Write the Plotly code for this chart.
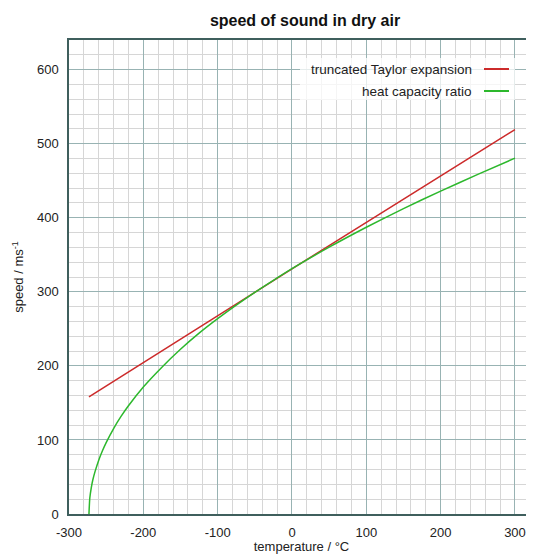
import plotly.graph_objects as go

# Data
taylor_temp = [-273.15, 0, 300]
taylor_speed = [158, 331, 519]

heat_temp = [-273.15, -272, -270, -268, -265, -260, -255, -250, -240, -230, -220, -200,
             -175, -150, -125, -100, -75, -50, -25, 0, 50, 100, 150, 200, 250, 300]
heat_speed = [0, 21.6, 35.6, 45.9, 57.2, 72.7, 85.3, 96.4, 115.4, 131.7, 146.1, 171.4,
              198.2, 222.4, 244.2, 263.8, 282.1, 299.4, 315.6, 331.3, 360.3, 387.2,
              412.4, 436.0, 458.5, 480.5]

x_ticks = [-300, -200, -100, 0, 100, 200, 300]
y_ticks = [0, 100, 200, 300, 400, 500, 600]

series_names = ["truncated Taylor expansion", "heat capacity ratio"]
red = "#cc2b2b"
green = "#2db82d"

fig = go.Figure()
fig.add_trace(go.Scatter(x=taylor_temp, y=taylor_speed, mode="lines",
                         line=dict(color=red, width=1.5), name=series_names[0],
                         showlegend=False))
fig.add_trace(go.Scatter(x=heat_temp, y=heat_speed, mode="lines",
                         line=dict(color=green, width=1.5, shape="spline", smoothing=0.6),
                         name=series_names[1], showlegend=False))

font_family = "Liberation Sans, Arial, sans-serif"
major = "#98b3b3"
minor = "#d6d6d6"
axis_col = "#3f5f5d"

# the page body has an 8px margin, so the figure is shifted by 8px
W, H = 526, 546
fig.update_layout(
    width=W, height=H,
    margin=dict(l=61, r=0, t=32, b=40, autoexpand=False),
    paper_bgcolor="white", plot_bgcolor="white",
    font=dict(family=font_family, size=13, color="#222222"),
    title=dict(text="<b>speed of sound in dry air</b>", x=(305 - 8) / W, xref="container",
               xanchor="center", y=1 - 12 / H, yref="container", yanchor="middle",
               font=dict(family=font_family, size=16, color="#111111"), automargin=False),
    xaxis=dict(range=[-300, 325.6], tickvals=x_ticks, ticktext=[str(v) for v in x_ticks],
               showgrid=True, gridcolor=major, gridwidth=1,
               minor=dict(dtick=20, tick0=0, showgrid=True, gridcolor=minor, gridwidth=1),
               showline=True, linecolor=axis_col, linewidth=1.5, mirror=True,
               zeroline=False, ticks="", ticklabelstandoff=6, automargin=False,
               title=dict(text="temperature / °C", standoff=2, font=dict(size=13))),
    yaxis=dict(range=[0, 640], tickvals=y_ticks, ticktext=[str(v) for v in y_ticks],
               showgrid=True, gridcolor=major, gridwidth=1,
               minor=dict(dtick=20, tick0=0, showgrid=True, gridcolor=minor, gridwidth=1),
               showline=True, linecolor=axis_col, linewidth=1.5,
               zeroline=False, ticks="", ticklabelstandoff=6, automargin=False,
               title=dict(text="speed / ms<sup>-1</sup>", standoff=10, font=dict(size=13))),
)

# Custom legend (text on the left, line sample on the right)
legend_rows = [(series_names[0], red, 69), (series_names[1], green, 91)]
fig.add_shape(type="rect", xref="paper", yref="paper",
              x0=(300 - 69) / 465, x1=(515 - 69) / 465,
              y0=(514 - 100) / 474, y1=(514 - 58) / 474,
              fillcolor="rgba(255,255,255,0.75)", line=dict(width=0), layer="above")
for name, col, ypix in legend_rows:
    yp = (514 - ypix) / 474
    fig.add_annotation(text=name, xref="paper", yref="paper", x=(474 - 69) / 465, y=yp,
                       xanchor="right", yanchor="middle", showarrow=False,
                       font=dict(family=font_family, size=13.5, color="#222222"))
    fig.add_shape(type="line", xref="paper", yref="paper",
                  x0=(484 - 69) / 465, x1=(509 - 69) / 465, y0=yp, y1=yp,
                  line=dict(color=col, width=2), layer="above")

fig.write_html("out.html")
